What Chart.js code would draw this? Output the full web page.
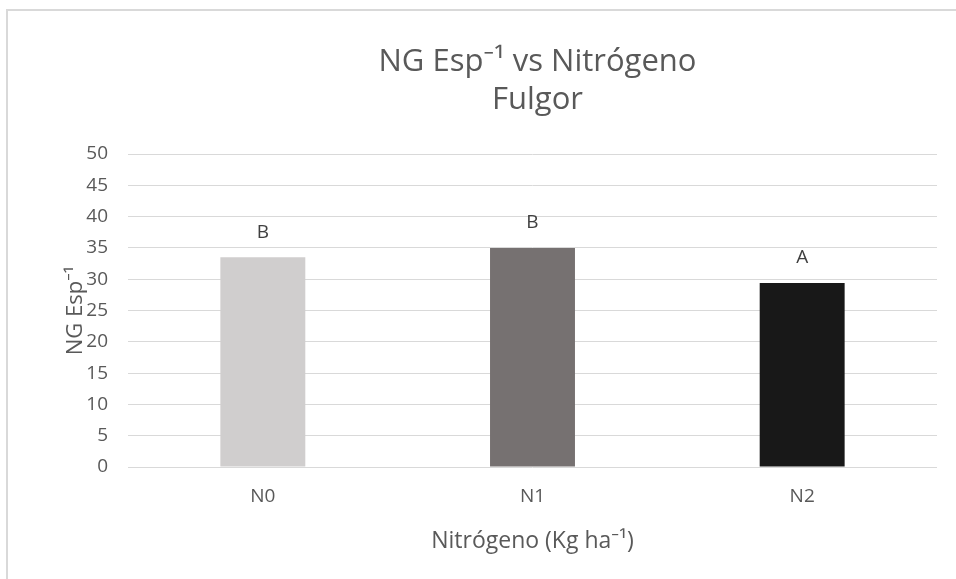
<!DOCTYPE html>
<html>
<head>
<meta charset="utf-8">
<script src="https://cdn.jsdelivr.net/npm/chart.js@4/dist/chart.umd.min.js"></script>
<style>
  html, body { margin: 0; padding: 0; background: #fff; }
  #wrap { position: relative; width: 956px; height: 579px; overflow: hidden; }
  #frame { position: absolute; left: 6px; top: 9px; width: 1000px; height: 1000px;
           border-left: 2px solid #d9d9d9; border-top: 2px solid #d9d9d9; box-sizing: border-box; }
  canvas { position: absolute; left: 0; top: 0; }
</style>
</head>
<body>
<div id="wrap">
  <div id="frame"></div>
  <canvas id="c" width="956" height="579"></canvas>
</div>
<script>
const categories = ['N0', 'N1', 'N2'];
const values = [33.5, 35.0, 29.4];
const letters = ['B', 'B', 'A'];
const barColors = ['#d0cece', '#767171', '#181818'];
const chartTitle = ['NG Esp\u207B\u00B9 vs Nitrógeno', 'Fulgor'];
const xTitle = 'Nitrógeno (Kg ha\u207B\u00B9)';
const yTitle = 'NG Esp\u207B\u00B9';

const FONT = "'Open Sans', 'Noto Sans', sans-serif";
const TEXT = '#595959';

const letterPlugin = {
  id: 'letters',
  afterDatasetsDraw(chart) {
    const ctx = chart.ctx;
    const meta = chart.getDatasetMeta(0);
    ctx.save();
    ctx.font = "19px " + FONT;
    ctx.fillStyle = '#404040';
    ctx.textAlign = 'center';
    ctx.textBaseline = 'middle';
    meta.data.forEach((bar, i) => {
      ctx.fillText(letters[i], bar.x, bar.y - 25);
    });
    ctx.restore();
  }
};

const titlePlugin = {
  id: 'topTitle',
  afterDraw(chart) {
    const ctx = chart.ctx;
    const a = chart.chartArea;
    const cx = (a.left + a.right) / 2 + 5;
    ctx.save();
    ctx.font = "31px " + FONT;
    ctx.fillStyle = TEXT;
    ctx.textAlign = 'center';
    ctx.textBaseline = 'middle';
    chartTitle.forEach((line, i) => {
      ctx.fillText(line, cx, 62 + i * 38);
    });
    ctx.restore();
  }
};

new Chart(document.getElementById('c'), {
  type: 'bar',
  data: {
    labels: categories,
    datasets: [{
      data: values,
      backgroundColor: barColors,
      borderWidth: 0,
      barPercentage: 0.315,
      categoryPercentage: 1.0
    }]
  },
  options: {
    responsive: false,
    animation: false,
    devicePixelRatio: 1,
    layout: { padding: { left: 0, right: 19, top: 154, bottom: 0 } },
    plugins: {
      legend: { display: false },
      tooltip: { enabled: false },
      title: { display: false }
    },
    scales: {
      x: {
        grid: { display: false },
        border: { display: false },
        ticks: { color: TEXT, font: { family: FONT, size: 19 }, padding: 10 },
        title: {
          display: true, text: xTitle, color: TEXT,
          font: { family: FONT, size: 23, lineHeight: 1.2 },
          padding: { top: 0, bottom: 24 }
        },
        afterFit: s => { s.height = 112; }
      },
      y: {
        min: 0, max: 50,
        grid: { color: '#d9d9d9', lineWidth: 1, drawTicks: false },
        border: { display: false },
        ticks: { stepSize: 5, color: TEXT, font: { family: FONT, size: 19 }, padding: 20 },
        title: {
          display: true, text: yTitle, color: TEXT,
          font: { family: FONT, size: 22, lineHeight: 1.2 },
          padding: { top: 63, bottom: 0 }
        },
        afterFit: s => { s.width = 128; }
      }
    }
  },
  plugins: [letterPlugin, titlePlugin]
});
</script>
</body>
</html>
